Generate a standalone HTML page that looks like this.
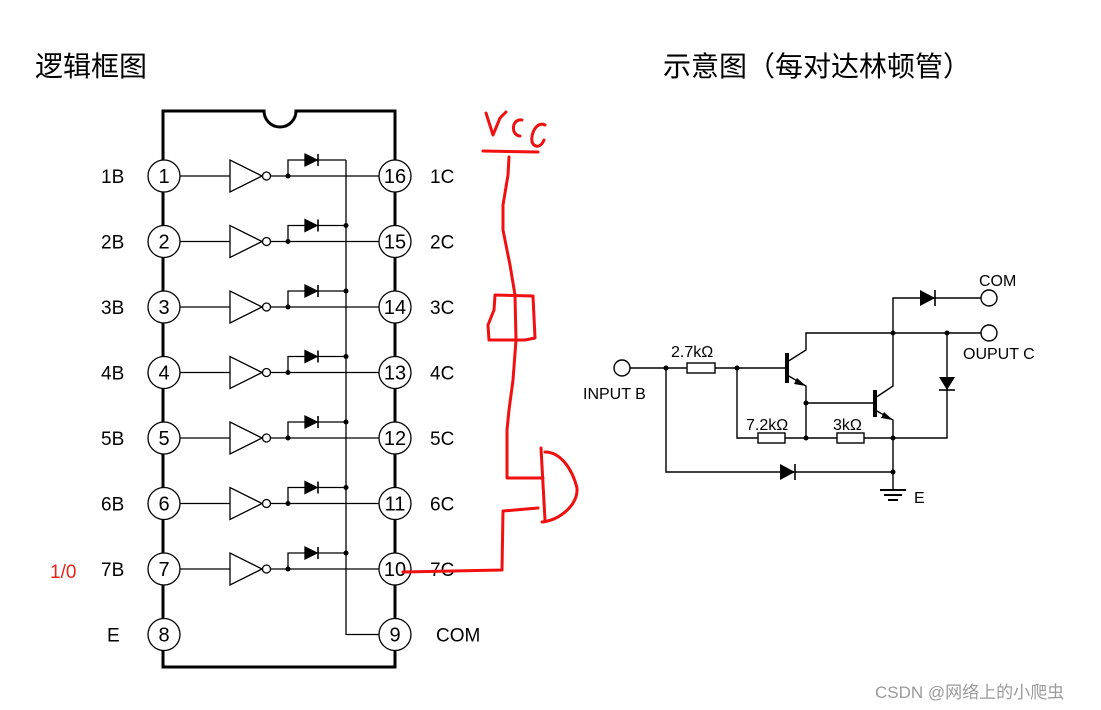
<!DOCTYPE html>
<html><head><meta charset="utf-8"><style>
html,body{margin:0;padding:0;background:#fff;width:1101px;height:710px;overflow:hidden}
svg{display:block}
text{font-family:"Liberation Sans","Noto Sans CJK SC",sans-serif}
</style></head><body>
<svg width="1101" height="710" viewBox="0 0 1101 710" xmlns="http://www.w3.org/2000/svg">
<defs>
<g id="row" stroke="#000" stroke-width="1.3" fill="none">
  <line x1="180" y1="0" x2="230" y2="0"/>
  <polygon points="230,-16 230,16 262,0" fill="#fff"/>
  <circle cx="266.5" cy="0" r="4" fill="#fff"/>
  <line x1="270.5" y1="0" x2="379" y2="0"/>
  <circle cx="288" cy="0" r="2.5" fill="#000" stroke="none"/>
  <polyline points="288,0 288,-16 346,-16"/>
  <polygon points="305,-22 305,-10 317,-16" fill="#000"/>
  <line x1="318" y1="-22" x2="318" y2="-10" stroke-width="1.6"/>
</g>
</defs>
<text x="35" y="76" font-size="28">逻辑框图</text>
<text x="663" y="76" font-size="28">示意图（每对达林顿管）</text>

<path d="M163,111 H264 A16,16 0 0 0 296,111 H395 V667 H163 Z" fill="none" stroke="#000" stroke-width="3"/>
<polyline points="346,160 346,634.5 379,634.5" fill="none" stroke="#000" stroke-width="1.3"/>
<use href="#row" y="176"/>
<use href="#row" y="241.5"/>
<use href="#row" y="307"/>
<use href="#row" y="372.5"/>
<use href="#row" y="438"/>
<use href="#row" y="503.5"/>
<use href="#row" y="569"/>
<g fill="#000">
<circle cx="346" cy="225.5" r="2.5"/><circle cx="346" cy="291" r="2.5"/><circle cx="346" cy="356.5" r="2.5"/>
<circle cx="346" cy="422" r="2.5"/><circle cx="346" cy="487.5" r="2.5"/><circle cx="346" cy="553" r="2.5"/>
</g>
<g fill="#fff" stroke="#000" stroke-width="1.3">
<circle cx="164" cy="176" r="16"/><circle cx="164" cy="241.5" r="16"/><circle cx="164" cy="307" r="16"/><circle cx="164" cy="372.5" r="16"/>
<circle cx="164" cy="438" r="16"/><circle cx="164" cy="503.5" r="16"/><circle cx="164" cy="569" r="16"/><circle cx="164" cy="634.5" r="16"/>
<circle cx="395" cy="176" r="16"/><circle cx="395" cy="241.5" r="16"/><circle cx="395" cy="307" r="16"/><circle cx="395" cy="372.5" r="16"/>
<circle cx="395" cy="438" r="16"/><circle cx="395" cy="503.5" r="16"/><circle cx="395" cy="569" r="16"/><circle cx="395" cy="634.5" r="16"/>
</g>
<g font-size="20" text-anchor="middle">
<text x="164" y="183">1</text><text x="164" y="248.5">2</text><text x="164" y="314">3</text><text x="164" y="379.5">4</text>
<text x="164" y="445">5</text><text x="164" y="510.5">6</text><text x="164" y="576">7</text><text x="164" y="641.5">8</text>
<text x="395" y="183">16</text><text x="395" y="248.5">15</text><text x="395" y="314">14</text><text x="395" y="379.5">13</text>
<text x="395" y="445">12</text><text x="395" y="510.5">11</text><text x="395" y="576">10</text><text x="395" y="641.5">9</text>
</g>
<g font-size="19">
<text x="101" y="183">1B</text><text x="101" y="248.5">2B</text><text x="101" y="314">3B</text><text x="101" y="379.5">4B</text>
<text x="101" y="445">5B</text><text x="101" y="510.5">6B</text><text x="101" y="576">7B</text><text x="107" y="641.5">E</text>
<text x="430" y="183">1C</text><text x="430" y="248.5">2C</text><text x="430" y="314">3C</text><text x="430" y="379.5">4C</text>
<text x="430" y="445">5C</text><text x="430" y="510.5">6C</text><text x="430" y="576">7C</text><text x="436" y="641.5">COM</text>
</g>
<text x="50" y="578" font-size="19" fill="#e8241c">1/0</text>

<g fill="none" stroke="#f01010" stroke-width="3" stroke-linecap="round" stroke-linejoin="round">
<path d="M486,113 L493,135 L500,118 L506,112"/>
<path d="M522,120 C512,118 510,135 520,136"/>
<path d="M545,125 C535,120 528,140 534,145 C538,148 542,145 544,140"/>
<path d="M483,151 L538,152"/>
<path d="M509,157 L508,175 L503,205 L503,230 L510,265 L515,295 L516,340 L513,380 L509,410 L507,430 L507,478 L543,478"/>
<path d="M495,295 L533,296 L535,338 L525,340 L489,340 L488,325 L494,310 Z"/>
<path d="M541,448 L545,520"/>
<path d="M545,452 C560,452 572,468 577,488 C578,505 560,520 542,522"/>
<path d="M538,508 L503,511 L502,570 L403,572"/>
</g>

<g stroke="#000" stroke-width="1.4" fill="none">
<line x1="630" y1="368" x2="687" y2="368"/>
<rect x="687" y="363" width="28" height="10" fill="#fff"/>
<line x1="715" y1="368" x2="787" y2="368"/>
<line x1="787" y1="353" x2="787" y2="383" stroke-width="4"/>
<polyline points="787,362 806,350 806,333 981,333"/>
<polyline points="787,375 806,386 806,438"/>
<line x1="806" y1="403" x2="875" y2="403"/>
<line x1="875" y1="390" x2="875" y2="417" stroke-width="4"/>
<polyline points="875,398 893,386 893,298 981,298"/>
<polyline points="875,410 893,420 893,490"/>
<polyline points="737,368 737,438 947,438 947,333"/>
<polyline points="666,368 666,472 893,472"/>
<rect x="758" y="433" width="27" height="10" fill="#fff"/>
<rect x="837" y="433" width="27" height="10" fill="#fff"/>
<line x1="880" y1="490" x2="906" y2="490" stroke-width="2"/>
<line x1="884" y1="495" x2="902" y2="495" stroke-width="2"/>
<line x1="888" y1="500" x2="898" y2="500" stroke-width="2"/>
<circle cx="622" cy="368" r="8" fill="#fff"/>
<circle cx="989" cy="298" r="8" fill="#fff"/>
<circle cx="989" cy="333" r="8" fill="#fff"/>
<line x1="935" y1="290" x2="935" y2="306" stroke-width="1.6"/>
<line x1="939" y1="390" x2="955" y2="390" stroke-width="1.6"/>
<line x1="795" y1="464" x2="795" y2="480" stroke-width="1.6"/>
</g>
<g fill="#000">
<polygon points="920,290 920,306 935,298"/>
<polygon points="939,377 955,377 947,390"/>
<polygon points="780,464 780,480 795,472"/>
<polygon points="806,386 797,378 794,384"/>
<polygon points="893,420 884,412 881,418"/>
<circle cx="666" cy="368" r="2.5"/><circle cx="737" cy="368" r="2.5"/>
<circle cx="806" cy="403" r="2.5"/><circle cx="806" cy="438" r="2.5"/>
<circle cx="893" cy="333" r="2.5"/><circle cx="947" cy="333" r="2.5"/>
<circle cx="893" cy="438" r="2.5"/><circle cx="893" cy="472" r="2.5"/>
</g>
<g font-size="16">
<text x="671" y="357">2.7kΩ</text>
<text x="746" y="430">7.2kΩ</text>
<text x="833" y="430">3kΩ</text>
<text x="979" y="286">COM</text>
<text x="963" y="359">OUPUT C</text>
<text x="583" y="399">INPUT B</text>
<text x="914" y="503">E</text>
</g>
<text x="875" y="698" font-size="17" fill="#9a9a9a">CSDN @网络上的小爬虫</text>
</svg>
</body></html>
